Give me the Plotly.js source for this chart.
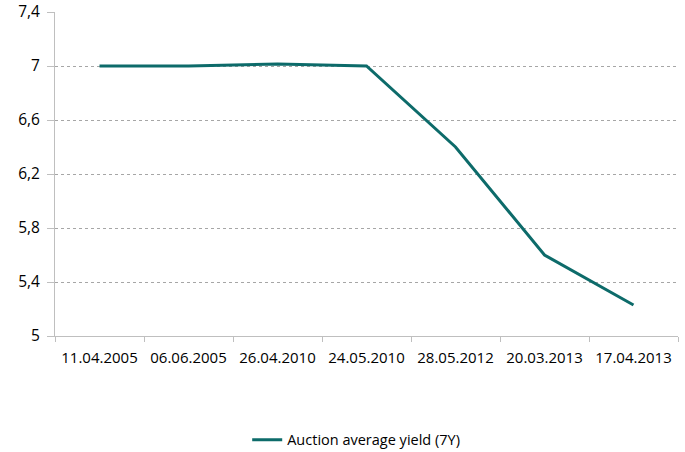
<!DOCTYPE html>
<html><head><meta charset="utf-8">
<script src="https://cdn.plot.ly/plotly-3.0.1.min.js"></script>
<style>body{margin:0;}#c{width:685px;height:452px;}</style>
</head><body><div id="c"></div>
<script>
const dates = ["11.04.2005","06.06.2005","26.04.2010","24.05.2010","28.05.2012","20.03.2013","17.04.2013"];
const yields = [7.0, 7.0, 7.015, 7.0, 6.4, 5.6, 5.23];
const yTicks = [5, 5.4, 5.8, 6.2, 6.6, 7, 7.4];
const yTickText = ["5","5,4","5,8","6,2","6,6","7","7,4"];

Plotly.newPlot("c", [{
  x: dates, y: yields, type: "scatter", mode: "lines",
  name: "Auction average yield (7Y)",
  line: {color: "#0d6b6a", width: 3}
}], {
  width: 685, height: 452,
  margin: {l: 55, r: 7, t: 12, b: 116},
  paper_bgcolor: "#fff", plot_bgcolor: "#fff",
  font: {family: "Open Sans, Liberation Sans, sans-serif", size: 14, color: "#000"},
  showlegend: true,
  legend: {orientation: "h", x: 0.52, xanchor: "center", xref: "container", yref: "container", y: 0.027, yanchor: "middle", font: {size: 14.5}},
  xaxis: {
    type: "category", showgrid: false, showline: true, linecolor: "#bfbfbf", linewidth: 1,
    ticks: "outside", tickson: "boundaries", ticklen: 5, tickcolor: "#bfbfbf",
    range: [-0.5, 6.5], fixedrange: true, zeroline: false,
    tickfont: {size: 15}, ticklabelstandoff: 8
  },
  yaxis: {
    range: [5, 7.4], tickvals: yTicks, ticktext: yTickText,
    showline: true, linecolor: "#bfbfbf", linewidth: 1,
    ticks: "outside", ticklen: 7, tickcolor: "#bfbfbf",
    showgrid: true, gridcolor: "#a6a6a6", griddash: "3px,3px", gridwidth: 1,
    zeroline: false, ticklabelstandoff: 4, tickfont: {size: 15.5}
  }
}, {staticPlot: true});
</script></body></html>
